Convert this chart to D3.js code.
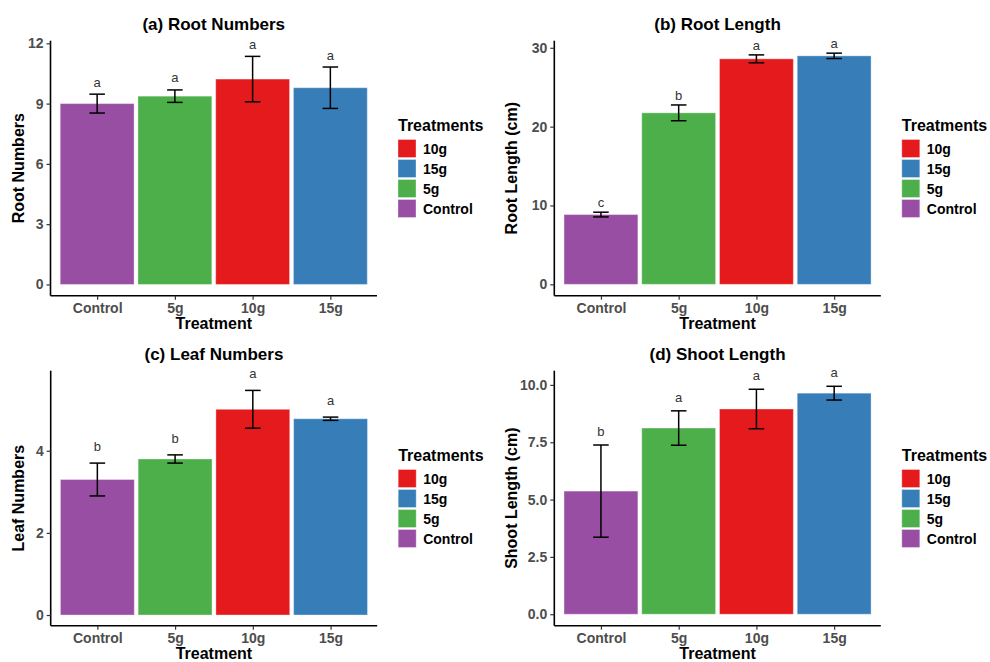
<!DOCTYPE html>
<html>
<head>
<meta charset="utf-8">
<script src="https://cdn.jsdelivr.net/npm/d3@7"></script>
<style>
  body { margin: 0; background: #fff; }
  text { font-family: "Liberation Sans", Arial, sans-serif; }
</style>
</head>
<body>
<div class="container"></div>
<script>
// treatments, as on the x axis and in the legend
const treatments = ["Control", "5g", "10g", "15g"];
const legendOrder = ["10g", "15g", "5g", "Control"];

// (a) root numbers
const rootNumMean = [9.0, 9.37, 10.22, 9.79];
const rootNumSE = [0.47, 0.31, 1.13, 1.03];
const rootNumLetters = ["a", "a", "a", "a"];

// (b) root length
const rootLenMean = [8.85, 21.75, 28.6, 28.98];
const rootLenSE = [0.3, 1.0, 0.5, 0.34];
const rootLenLetters = ["c", "b", "a", "a"];

// (c) leaf numbers
const leafNumMean = [3.3, 3.8, 5.01, 4.78];
const leafNumSE = [0.4, 0.1, 0.46, 0.04];
const leafNumLetters = ["b", "b", "a", "a"];

// (d) shoot length
const shootLenMean = [5.37, 8.12, 8.95, 9.64];
const shootLenSE = [2.01, 0.75, 0.86, 0.3];
const shootLenLetters = ["b", "a", "a", "a"];

const color = d3.scaleOrdinal()
  .domain(["Control", "5g", "10g", "15g"])
  .range(["#984EA3", "#4DAF4A", "#E41A1C", "#377EB8"]);

let panels = [
  { title: "(a) Root Numbers", ylab: "Root Numbers", mean: rootNumMean, se: rootNumSE, letters: rootNumLetters,
    ticks: [0, 3, 6, 9, 12], fmt: d3.format("d"), domain: [-0.56, 12.13], ox: 0, oy: 0, left: 50.5, labX: 18, gap: 12 },
  { title: "(b) Root Length", ylab: "Root Length (cm)", mean: rootLenMean, se: rootLenSE, letters: rootLenLetters,
    ticks: [0, 10, 20, 30], fmt: d3.format("d"), domain: [-1.44, 30.9], ox: 495, oy: 0, left: 59.3, labX: 16, gap: 9.5 },
  { title: "(c) Leaf Numbers", ylab: "Leaf Numbers", mean: leafNumMean, se: leafNumSE, letters: leafNumLetters,
    ticks: [0, 2, 4], fmt: d3.format("d"), domain: [-0.26, 5.95], ox: 0, oy: 330, left: 50.7, labX: 18, gap: 16.5 },
  { title: "(d) Shoot Length", ylab: "Shoot Length (cm)", mean: shootLenMean, se: shootLenSE, letters: shootLenLetters,
    ticks: [0, 2.5, 5, 7.5, 10], fmt: d3.format(".1f"), domain: [-0.5, 10.62], ox: 495, oy: 330, left: 59.3, labX: 16, gap: 13.5 }
];

let svg = d3.select(".container")
  .append("svg")
  .attr("width", 990)
  .attr("height", 662);

const plotW = 326.5, plotTop = 40.7, plotBottom = 295.7;

panels.forEach(p => {
  let g = svg.append("g").attr("transform", `translate(${p.ox},${p.oy})`);

  let x = d3.scalePoint()
    .domain(treatments)
    .range([p.left, p.left + plotW])
    .padding(0.6);
  let step = x.step();

  let y = d3.scaleLinear()
    .domain(p.domain)
    .range([plotBottom, plotTop]);

  let rows = treatments.map((t, i) => ({ t: t, m: p.mean[i], se: p.se[i], l: p.letters[i] }));

  // bars
  g.selectAll(".bar")
    .data(rows)
    .enter().append("rect")
    .attr("class", "bar")
    .attr("x", d => x(d.t) - step * 0.475)
    .attr("width", step * 0.95)
    .attr("y", d => y(d.m))
    .attr("height", d => y(0) - y(d.m))
    .attr("fill", d => color(d.t))
    .attr("stroke", "#ffffff")
    .attr("stroke-opacity", 0.35)
    .attr("stroke-width", 1);

  // error bars
  let err = g.selectAll(".err")
    .data(rows)
    .enter().append("g")
    .attr("class", "err")
    .attr("stroke", "#000")
    .attr("stroke-width", 1.5)
    .attr("fill", "none");
  err.append("line")
    .attr("x1", d => x(d.t)).attr("x2", d => x(d.t))
    .attr("y1", d => y(d.m + d.se)).attr("y2", d => y(d.m - d.se));
  err.append("line")
    .attr("x1", d => x(d.t) - step * 0.1).attr("x2", d => x(d.t) + step * 0.1)
    .attr("y1", d => y(d.m + d.se)).attr("y2", d => y(d.m + d.se));
  err.append("line")
    .attr("x1", d => x(d.t) - step * 0.1).attr("x2", d => x(d.t) + step * 0.1)
    .attr("y1", d => y(d.m - d.se)).attr("y2", d => y(d.m - d.se));

  // significance letters
  g.selectAll(".letter")
    .data(rows)
    .enter().append("text")
    .attr("class", "letter")
    .attr("x", d => x(d.t))
    .attr("y", d => y(d.m + d.se) - p.gap + 4.5)
    .attr("text-anchor", "middle")
    .style("font-size", "13px")
    .style("fill", "#333")
    .text(d => d.l);

  // axes
  let yAxis = g.append("g")
    .attr("transform", `translate(${p.left},0)`)
    .call(d3.axisLeft(y).tickValues(p.ticks).tickFormat(p.fmt).tickSizeOuter(0).tickSize(4).tickPadding(3));
  let xAxis = g.append("g")
    .attr("transform", `translate(0,${plotBottom})`)
    .call(d3.axisBottom(x).tickSizeOuter(0).tickSize(4).tickPadding(3));

  [xAxis, yAxis].forEach(ax => {
    ax.select(".domain").attr("stroke", "#000").attr("stroke-width", 1.6);
    ax.selectAll(".tick line").attr("stroke", "#333").attr("stroke-width", 1.2);
    ax.selectAll(".tick text")
      .style("font-size", "14px")
      .style("font-weight", "bold")
      .style("font-family", "'Liberation Sans', Arial, sans-serif")
      .attr("fill", "#4d4d4d");
  });
  yAxis.select(".domain").attr("d", `M0,${plotTop}V${plotBottom}`);
  xAxis.select(".domain").attr("d", `M${p.left},0H${p.left + plotW}`);

  // titles
  g.append("text")
    .attr("x", p.left + plotW / 2)
    .attr("y", 30)
    .attr("text-anchor", "middle")
    .style("font-size", "17px")
    .style("font-weight", "bold")
    .text(p.title);

  g.append("text")
    .attr("x", p.left + plotW / 2)
    .attr("y", 329)
    .attr("text-anchor", "middle")
    .style("font-size", "16px")
    .style("font-weight", "bold")
    .text("Treatment");

  g.append("text")
    .attr("transform", `translate(${p.labX},${(plotTop + plotBottom) / 2}) rotate(-90)`)
    .attr("dy", "0.35em")
    .attr("text-anchor", "middle")
    .style("font-size", "16px")
    .style("font-weight", "bold")
    .text(p.ylab);

  // legend
  let legend = g.append("g")
    .attr("transform", `translate(${p.left + plotW + 21},0)`);

  legend.append("text")
    .attr("x", 0)
    .attr("y", 131)
    .style("font-size", "16px")
    .style("font-weight", "bold")
    .text("Treatments");

  legendOrder.forEach((d, i) => {
    let row = legend.append("g")
      .attr("transform", `translate(0,${139.5 + i * 20})`);
    row.append("rect")
      .attr("width", 18)
      .attr("height", 18)
      .attr("fill", color(d))
      .attr("stroke", "#ffffff")
      .attr("stroke-opacity", 0.35);
    row.append("text")
      .attr("x", 25)
      .attr("y", 14)
      .style("font-size", "14px")
      .style("font-weight", "bold")
      .text(d);
  });
});
</script>
</body>
</html>
